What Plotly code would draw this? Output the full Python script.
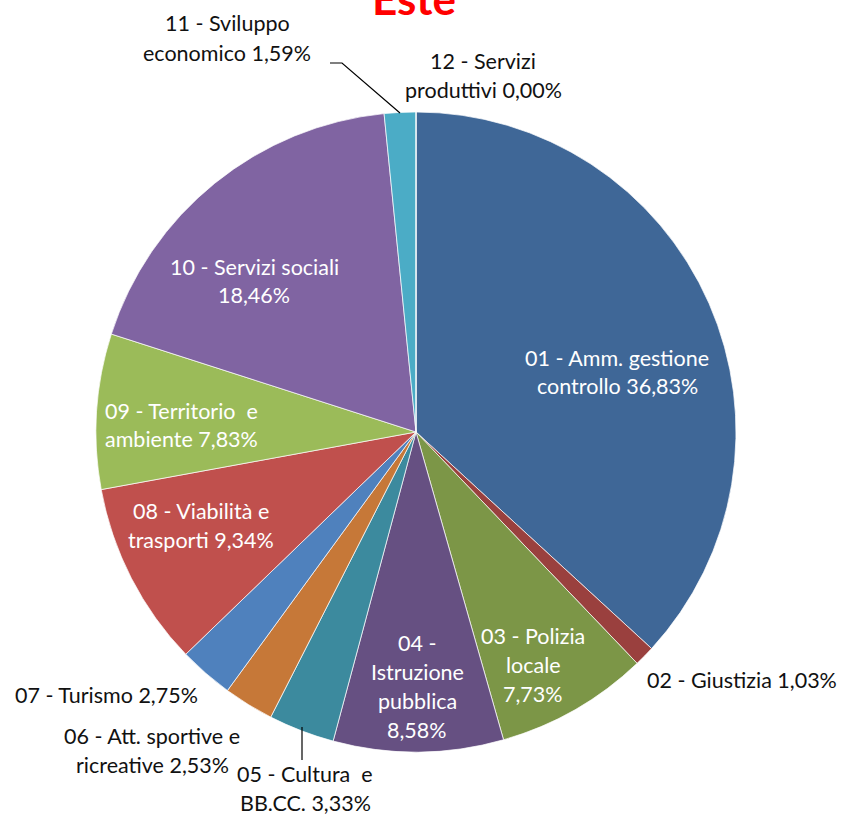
import plotly.graph_objects as go

# ---- data ----
categories = [
    "01 - Amm. gestione controllo", "02 - Giustizia", "03 - Polizia locale",
    "04 - Istruzione pubblica", "05 - Cultura e BB.CC.", "06 - Att. sportive e ricreative",
    "07 - Turismo", "08 - Viabilità e trasporti", "09 - Territorio e ambiente",
    "10 - Servizi sociali", "11 - Sviluppo economico", "12 - Servizi produttivi",
]
values = [36.83, 1.03, 7.73, 8.58, 3.33, 2.53, 2.75, 9.34, 7.83, 18.46, 1.59, 0.00]

# label line templates ({v} = percentage)
label_lines = [
    ["01 - Amm. gestione", "controllo {v}"],
    ["02 - Giustizia {v}"],
    ["03 - Polizia", "locale", "{v}"],
    ["04 -", "Istruzione", "pubblica", "{v}"],
    ["05 - Cultura  e", "BB.CC. {v}"],
    ["06 - Att. sportive e", "ricreative {v}"],
    ["07 - Turismo {v}"],
    ["08 - Viabilità e", "trasporti {v}"],
    ["09 - Territorio  e", "ambiente {v}"],
    ["10 - Servizi sociali", "{v}"],
    ["11 - Sviluppo", "economico {v}"],
    ["12 - Servizi", "produttivi {v}"],
]

# ---- styling ----
W, H = 841, 814
colors = ["#3F6797", "#9A403E", "#7C9647", "#665082", "#3C8A9E", "#C67838",
          "#4F81BD", "#C0504D", "#9BBB59", "#8064A2", "#4BACC6", "#F79646"]
inside = [True, False, True, True, False, False, False, True, True, True, False, False]
# label block centres in pixels (from top-left)
label_pos = [(617, 372), (742, 680), (533, 665), (417, 686), (305, 788), (152, 750),
             (106, 695), (201, 525), (181, 425), (254, 281), (227, 38), (483, 75)]
LINE = 29
FONT = "Lato, 'Open Sans', sans-serif"
FS = 21.5

cx, cy, r = 416, 432, 320

fig = go.Figure(go.Pie(
    labels=categories, values=values, sort=False, direction="clockwise", rotation=0,
    marker=dict(colors=colors, line=dict(color="rgba(255,255,255,0.7)", width=1)),
    textinfo="none", hoverinfo="label+percent", showlegend=False,
    domain=dict(x=[(cx - r) / W, (cx + r) / W], y=[(H - cy - r) / H, (H - cy + r) / H]),
))

def px(x):
    return x / W

def py(y):
    return 1 - y / H

annotations = []
for lines, v, (lx, ly), ins in zip(label_lines, values, label_pos, inside):
    pct = f"{v:.2f}%".replace(".", ",")
    n = len(lines)
    for i, t in enumerate(lines):
        yy = ly + (i - (n - 1) / 2) * LINE
        annotations.append(dict(
            x=px(lx), y=py(yy), xref="paper", yref="paper", showarrow=False,
            xanchor="center", yanchor="middle", text=t.replace("{v}", pct),
            font=dict(family=FONT, size=FS, color="white" if ins else "#111111"),
        ))

annotations.append(dict(
    x=px(414), y=py(26), xref="paper", yref="paper", showarrow=False,
    xanchor="center", yanchor="bottom", text="<b>Este</b>",
    font=dict(family=FONT, size=44, color="#FF0000"),
))

shapes = [
    dict(type="path", xref="paper", yref="paper",
         path=f"M {px(330)} {py(63)} L {px(342)} {py(63)} L {px(400)} {py(113)}",
         line=dict(color="black", width=1.2)),
    dict(type="line", xref="paper", yref="paper",
         x0=px(302), y0=py(727), x1=px(302), y1=py(760),
         line=dict(color="black", width=1.2)),
]

fig.update_layout(
    width=W, height=H, margin=dict(l=0, r=0, t=0, b=0),
    paper_bgcolor="white", plot_bgcolor="white",
    annotations=annotations, shapes=shapes,
)

fig.write_html("out.html", config={"displayModeBar": False},
               post_script="document.body.style.margin='0';document.body.style.overflow='hidden';")
